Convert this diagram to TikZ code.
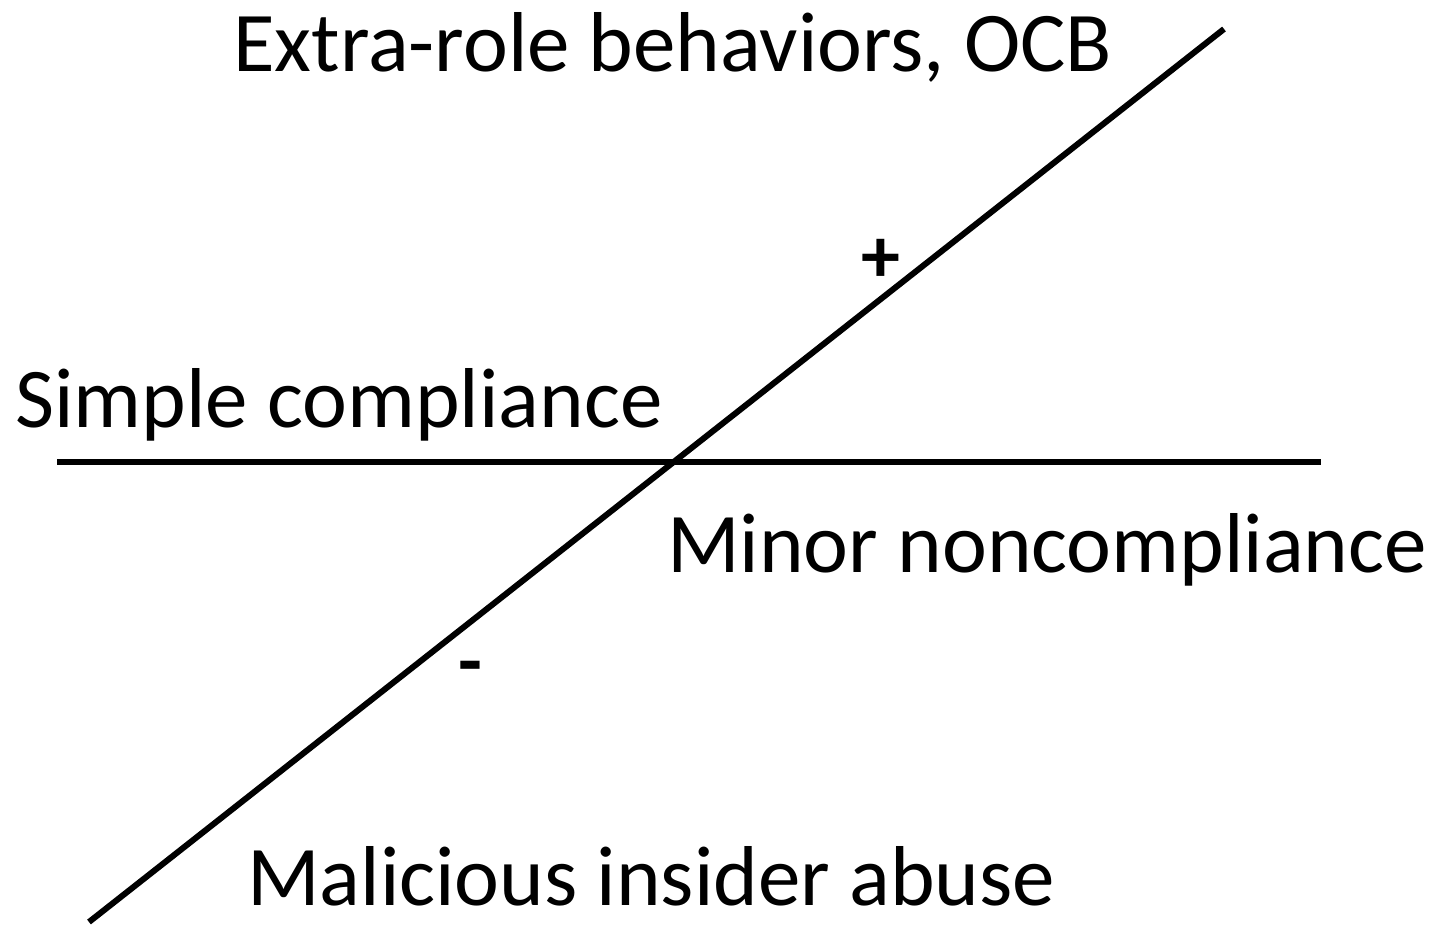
\documentclass[tikz,border=0pt]{standalone}
\usepackage{fontspec}
\setmainfont{Carlito}
\begin{document}
\begin{tikzpicture}[x=1pt,y=-1pt,
  axisline/.style={line width=6pt},
  label/.style={inner sep=0pt, anchor=base west, font=\fontsize{85}{100}\selectfont},
  sign/.style={inner sep=0pt, font=\fontsize{78}{90}\selectfont\bfseries}]
  % canvas
  \useasboundingbox (0,0) rectangle (1441,925);
  % axes
  \coordinate (hL) at (57,461.5);
  \coordinate (hR) at (1321,461.5);
  \coordinate (dB) at (89,922);
  \coordinate (dT) at (1224,29);
  \draw[axisline] (hL) -- (hR);
  \draw[axisline] (dB) -- (dT);
  % labels
  \node[label] (ocb) at (233,72) {Extra-role behaviors, OCB};
  \node[label] (simple) at (15,427) {Simple compliance};
  \node[label] (minor) at (667,572) {Minor noncompliance};
  \node[label] (abuse) at (247,905) {Malicious insider abuse};
  \node[sign] (plus) at (881,261) {+};
  \node[sign] (minus) at (470,674) {-};
\end{tikzpicture}
\end{document}
